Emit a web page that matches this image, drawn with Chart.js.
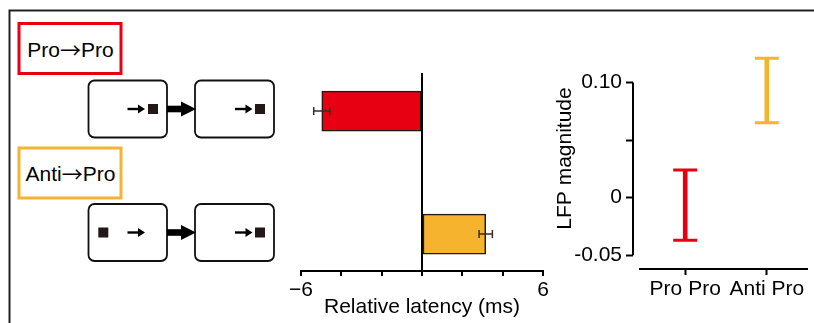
<!DOCTYPE html>
<html>
<head>
<meta charset="utf-8">
<script src="https://cdn.jsdelivr.net/npm/chart.js@4.4.1/dist/chart.umd.min.js"></script>
<style>
body { margin: 0; background: #fff; }
#wrap { position: relative; width: 814px; height: 323px; overflow: hidden; font-family: 'Liberation Sans', Arial, sans-serif; }
#diagram { position: absolute; left: 0; top: 0; }
#latency { position: absolute; left: 270px; top: 50px; }
#lfp { position: absolute; left: 540px; top: 30px; }
.arr { font-family: 'Noto Sans CJK JP'; }
</style>
</head>
<body>
<div id="wrap">
<svg id="diagram" width="814" height="323">
	<path d="M9.5,323 V10.5 H814" fill="none" stroke="#222" stroke-width="2"/>
	<rect x="19" y="23.5" width="102" height="50" fill="none" stroke="#E60012" stroke-width="3"/>
	<text x="70.5" y="49" font-size="21" text-anchor="middle" dominant-baseline="central">Pro<tspan class="arr">→</tspan>Pro</text>
	<rect x="19" y="148" width="102" height="50" fill="none" stroke="#F5B32E" stroke-width="3"/>
	<text x="70.5" y="173" font-size="21" text-anchor="middle" dominant-baseline="central">Anti<tspan class="arr">→</tspan>Pro</text>
	<g id="row1">
		<rect x="88.5" y="80.5" width="78.5" height="57" rx="6" fill="#fff" stroke="#111" stroke-width="1.8"/>
		<rect x="195" y="80.5" width="79" height="57" rx="6" fill="#fff" stroke="#111" stroke-width="1.8"/>
		<rect x="167" y="105.7" width="15" height="6.6" fill="#000"/>
		<polygon points="181,101.5 196,109 181,116.5" fill="#000"/>
		<line x1="127.5" y1="109" x2="140" y2="109" stroke="#000" stroke-width="2.4"/>
		<polygon points="138,104.6 145,109 138,113.4" fill="#000"/>
		<rect x="148" y="104" width="10" height="10" fill="#231815"/>
		<line x1="235" y1="109" x2="247.5" y2="109" stroke="#000" stroke-width="2.4"/>
		<polygon points="245.5,104.6 252.5,109 245.5,113.4" fill="#000"/>
		<rect x="255" y="104" width="10" height="10" fill="#231815"/>
	</g>
	<g id="row2">
		<rect x="88.5" y="204" width="78.5" height="57" rx="6" fill="#fff" stroke="#111" stroke-width="1.8"/>
		<rect x="195" y="204" width="79" height="57" rx="6" fill="#fff" stroke="#111" stroke-width="1.8"/>
		<rect x="167" y="229.2" width="15" height="6.6" fill="#000"/>
		<polygon points="181,225 196,232.5 181,240" fill="#000"/>
		<rect x="98.3" y="227.5" width="10" height="10" fill="#231815"/>
		<line x1="127.5" y1="232.5" x2="140" y2="232.5" stroke="#000" stroke-width="2.4"/>
		<polygon points="138,228.1 145,232.5 138,236.9" fill="#000"/>
		<line x1="235" y1="232.5" x2="247.5" y2="232.5" stroke="#000" stroke-width="2.4"/>
		<polygon points="245.5,228.1 252.5,232.5 245.5,236.9" fill="#000"/>
		<rect x="255" y="227.5" width="10" height="10" fill="#231815"/>
	</g>
</svg>
<canvas id="latency" width="290" height="273"></canvas>
<canvas id="lfp" width="274" height="293"></canvas>
</div>
<script>
// relative latency (ms), middle panel
var conditions = ['Pro→Pro', 'Anti→Pro'];
var latency = [-4.97, 3.16];
var latencyErr = [0.4, 0.33];
var latencyTicks = [-6, -4, -2, 0, 2, 4, 6];
var latencyTickLabels = ['−6', '', '', '', '', '', '6'];

// LFP magnitude, right panel
var groups = ['Pro Pro', 'Anti Pro'];
var lfpLow = [-0.037, 0.065];
var lfpHigh = [0.024, 0.121];
var lfpTicks = [-0.05, 0, 0.05, 0.10];
var lfpTickLabels = ['-0.05', '0', '', '0.10'];

var colors = ['#E60012', '#F5B32E'];
var font = { family: "'Liberation Sans', Arial, sans-serif", size: 21 };

Chart.defaults.color = '#000';
Chart.defaults.font.family = font.family;

var errorBars = {
	id: 'errorBars',
	afterDatasetsDraw: function(chart) {
		var ctx = chart.ctx;
		var x = chart.scales.x, y = chart.scales.y;
		ctx.save();
		ctx.strokeStyle = '#3b2b28';
		ctx.lineWidth = 1.5;
		latency.forEach(function(v, i) {
			var py = y.getPixelForValue(i);
			var x0 = x.getPixelForValue(v - latencyErr[i]);
			var x1 = x.getPixelForValue(v + latencyErr[i]);
			ctx.beginPath();
			ctx.moveTo(x0, py); ctx.lineTo(x1, py);
			ctx.moveTo(x0, py - 4); ctx.lineTo(x0, py + 4);
			ctx.moveTo(x1, py - 4); ctx.lineTo(x1, py + 4);
			ctx.stroke();
		});
		ctx.restore();
	}
};

new Chart(document.getElementById('latency'), {
	type: 'bar',
	data: {
		datasets: [{
			data: conditions.map(function(c, i) { return { x: latency[i], y: i }; }),
			backgroundColor: colors,
			borderColor: '#231815',
			borderWidth: 1.5,
			borderSkipped: false,
			barThickness: 40
		}]
	},
	options: {
		indexAxis: 'y',
		responsive: false,
		animation: false,
		layout: { padding: { left: 31, right: 17, top: 23, bottom: 0 } },
		plugins: { legend: { display: false }, tooltip: { enabled: false } },
		scales: {
			x: {
				type: 'linear',
				min: -6,
				max: 6,
				afterBuildTicks: function(scale) {
					scale.ticks = latencyTicks.map(function(v) { return { value: v }; });
				},
				afterFit: function(scale) { scale.height = 52; },
				ticks: {
					font: font,
					padding: 2,
					maxRotation: 0,
					callback: function(v, i) { return latencyTickLabels[i]; }
				},
				grid: {
					color: function(c) { return c.tick && c.tick.value === 0 ? '#000' : 'rgba(0,0,0,0)'; },
					lineWidth: 2,
					tickColor: '#000',
					tickWidth: 2,
					tickLength: 5
				},
				border: { display: true, color: '#000', width: 2 },
				title: { display: true, text: 'Relative latency (ms)', font: font, padding: { top: 0, bottom: 3 } }
			},
			y: {
				type: 'linear',
				reverse: true,
				offset: false,
				grid: { offset: false },
				min: -0.31,
				max: 1.3,
				display: false
			}
		}
	},
	plugins: [errorBars]
});

var rangeFrame = {
	id: 'rangeFrame',
	afterDatasetsDraw: function(chart) {
		var ctx = chart.ctx;
		var x = chart.scales.x, y = chart.scales.y;
		var area = chart.chartArea;
		ctx.save();
		ctx.strokeStyle = '#000';
		ctx.lineWidth = 2;
		ctx.beginPath();
		ctx.moveTo(area.left, y.getPixelForValue(lfpTicks[0]));
		ctx.lineTo(area.left, y.getPixelForValue(lfpTicks[lfpTicks.length - 1]));
		ctx.moveTo(area.left + 6, area.bottom);
		ctx.lineTo(area.right, area.bottom);
		ctx.stroke();
		// caps of the error bars
		ctx.lineWidth = 3;
		groups.forEach(function(g, i) {
			var px = x.getPixelForValue(i);
			ctx.strokeStyle = colors[i];
			ctx.beginPath();
			ctx.moveTo(px - 12, y.getPixelForValue(lfpLow[i])); ctx.lineTo(px + 12, y.getPixelForValue(lfpLow[i]));
			ctx.moveTo(px - 12, y.getPixelForValue(lfpHigh[i])); ctx.lineTo(px + 12, y.getPixelForValue(lfpHigh[i]));
			ctx.stroke();
		});
		ctx.restore();
	}
};

new Chart(document.getElementById('lfp'), {
	type: 'bar',
	data: {
		datasets: [{
			data: groups.map(function(g, i) { return { x: i, y: [lfpLow[i], lfpHigh[i]] }; }),
			backgroundColor: colors,
			borderWidth: 0,
			barThickness: 4
		}]
	},
	options: {
		responsive: false,
		animation: false,
		layout: { padding: { left: 0, right: 6, top: 18, bottom: 0 } },
		plugins: { legend: { display: false }, tooltip: { enabled: false } },
		scales: {
			x: {
				type: 'linear',
				offset: false,
				min: -0.64,
				max: 1.505,
				afterBuildTicks: function(scale) {
					scale.ticks = groups.map(function(g, i) { return { value: i }; });
				},
				afterFit: function(scale) { scale.height = 54; },
				ticks: {
					font: font,
					padding: 2,
					maxRotation: 0,
					autoSkip: false,
					callback: function(v, i) { return groups[i]; }
				},
				grid: { offset: false, drawOnChartArea: false, tickColor: '#000', tickWidth: 2, tickLength: 6 },
				border: { display: false }
			},
			y: {
				type: 'linear',
				min: -0.062,
				max: 0.13,
				afterBuildTicks: function(scale) {
					scale.ticks = lfpTicks.map(function(v) { return { value: v }; });
				},
				afterFit: function(scale) { scale.width = 93; },
				ticks: {
					font: font,
					padding: 4,
					callback: function(v, i) { return lfpTickLabels[i]; }
				},
				grid: { drawOnChartArea: false, tickColor: '#000', tickWidth: 2, tickLength: 7 },
				border: { display: false },
				title: { display: true, text: 'LFP magnitude', font: font, padding: { top: 13, bottom: 0 } }
			}
		}
	},
	plugins: [rangeFrame]
});
</script>
</body>
</html>
